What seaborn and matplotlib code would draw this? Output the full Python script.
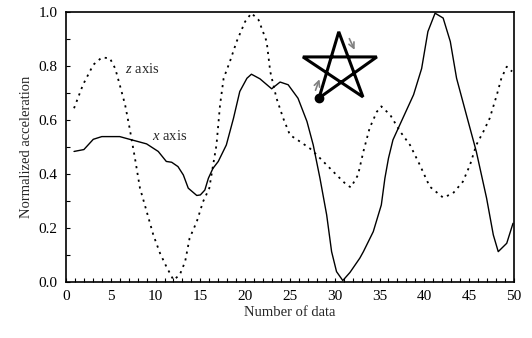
import numpy as np
import pandas as pd
import seaborn as sns
import matplotlib
matplotlib.use("Agg")
import matplotlib.pyplot as plt
from matplotlib.lines import Line2D
from matplotlib.ticker import MultipleLocator, FormatStrFormatter

# x-axis acceleration (solid line)
x_n = [0.9, 2.0, 3.05, 4.0, 5.0, 6.0, 7.1, 8.0, 9.0, 10.3, 11.2, 11.8, 12.5,
       13.1, 13.65, 14.6, 15.0, 15.5, 15.9, 16.4, 17.0, 17.9, 18.7, 19.4,
       20.2, 20.7, 21.65, 22.96, 23.9, 24.8, 25.9, 26.9, 27.6, 28.35, 29.1,
       29.65, 30.2, 30.9, 31.7, 32.8, 33.2, 34.3, 35.2, 35.6, 36.0, 36.5,
       37.6, 38.8, 39.7, 40.4, 41.2, 42.1, 42.9, 43.6, 44.7, 45.8, 46.95,
       47.7, 48.25, 49.2, 49.9]
x_val = [0.483, 0.49, 0.528, 0.538, 0.538, 0.538, 0.528, 0.52, 0.511, 0.483,
         0.446, 0.443, 0.427, 0.396, 0.347, 0.32, 0.322, 0.34, 0.384, 0.42,
         0.446, 0.507, 0.606, 0.705, 0.754, 0.769, 0.752, 0.715, 0.74, 0.73,
         0.68, 0.594, 0.507, 0.384, 0.248, 0.112, 0.038, 0.005, 0.035, 0.088,
         0.112, 0.186, 0.285, 0.384, 0.458, 0.526, 0.606, 0.693, 0.79, 0.927,
         0.995, 0.977, 0.89, 0.754, 0.618, 0.483, 0.31, 0.174, 0.112, 0.143,
         0.217]

# z-axis acceleration (dotted line)
z_n = [0.9, 1.9, 3.05, 4.0, 4.9, 5.5, 6.0, 6.6, 7.1, 7.7, 8.26, 8.8, 9.75,
       10.5, 11.2, 12.0, 12.7, 13.3, 13.8, 14.6, 15.3, 16.0, 16.3, 16.8, 17.2,
       17.6, 18.3, 19.05, 20.0, 20.7, 21.5, 22.4, 22.8, 23.5, 24.25, 25.0,
       26.1, 27.2, 28.0, 29.1, 30.2, 31.3, 31.8, 32.6, 33.2, 33.9, 34.7, 35.2,
       36.2, 37.3, 38.4, 39.5, 40.6, 42.1, 43.2, 44.3, 45.1, 45.8, 46.6, 47.3,
       48.1, 48.6, 49.2, 49.8]
z_val = [0.643, 0.73, 0.804, 0.831, 0.828, 0.79, 0.73, 0.656, 0.57, 0.458,
         0.347, 0.285, 0.174, 0.106, 0.057, 0.007, 0.026, 0.075, 0.162, 0.223,
         0.297, 0.347, 0.408, 0.507, 0.656, 0.754, 0.816, 0.89, 0.964, 0.995,
         0.97, 0.89, 0.779, 0.68, 0.606, 0.544, 0.52, 0.495, 0.47, 0.433,
         0.396, 0.36, 0.35, 0.396, 0.483, 0.57, 0.63, 0.65, 0.618, 0.557,
         0.507, 0.433, 0.353, 0.312, 0.328, 0.371, 0.433, 0.507, 0.557, 0.606,
         0.693, 0.754, 0.797, 0.779]

sns.set_style("white")
plt.rcParams['font.family'] = ['Liberation Serif', 'DejaVu Serif']
plt.rcParams['mathtext.fontset'] = 'custom'
plt.rcParams['mathtext.it'] = 'Liberation Serif:italic'
plt.rcParams['mathtext.rm'] = 'Liberation Serif'

df_x = pd.DataFrame({"n": x_n, "acc": x_val})
df_z = pd.DataFrame({"n": z_n, "acc": z_val})

fig = plt.figure(figsize=(5.32, 3.38), dpi=100)
ax = fig.add_axes([0.124, 0.166, 0.842, 0.799])

sns.lineplot(data=df_x, x="n", y="acc", ax=ax, color="black", linewidth=1.0,
             sort=False)
sns.lineplot(data=df_z, x="n", y="acc", ax=ax, color="black", linewidth=1.3,
             linestyle=(0, (1.2, 2.6)), sort=False)

ax.set_xlim(0, 50)
ax.set_ylim(0, 1.0)
ax.xaxis.set_major_locator(MultipleLocator(5))
ax.xaxis.set_minor_locator(MultipleLocator(1))
ax.yaxis.set_major_locator(MultipleLocator(0.2))
ax.yaxis.set_minor_locator(MultipleLocator(0.1))
ax.yaxis.set_major_formatter(FormatStrFormatter('%.1f'))
ax.tick_params(axis='both', which='both', direction='in', length=3, width=0.8,
               labelsize=11, colors='black', pad=6)
ax.tick_params(axis='x', which='both', bottom=True, top=False)
ax.tick_params(axis='y', which='both', left=True, right=False)
for s in ax.spines.values():
    s.set_color('black')
    s.set_linewidth(1.2)

ax.set_xlabel("Number of data", fontsize=10.5, labelpad=2)
ax.set_ylabel("Normalized acceleration", fontsize=10.5, labelpad=4)

ax.text(6.6, 0.79, "$z$ axis", fontsize=10.5, ha='left', va='center')
ax.text(9.6, 0.54, "$x$ axis", fontsize=10.5, ha='left', va='center')

# pentagram inset (axes fraction)
star = [(0.565, 0.681), (0.609, 0.926), (0.663, 0.685), (0.529, 0.833),
        (0.694, 0.833), (0.565, 0.681)]
sx, sy = zip(*star)
ax.add_line(Line2D(sx, sy, transform=ax.transAxes, color='black', linewidth=2.2,
                   solid_joinstyle='miter'))
ax.plot([0.565], [0.681], 'o', color='black', markersize=6, transform=ax.transAxes)
ax.annotate("", xy=(0.568, 0.76), xytext=(0.555, 0.70), xycoords='axes fraction',
            arrowprops=dict(arrowstyle='->', color='gray', lw=1.2))
ax.annotate("", xy=(0.647, 0.85), xytext=(0.630, 0.91), xycoords='axes fraction',
            arrowprops=dict(arrowstyle='->', color='gray', lw=1.2))

fig.savefig("out.png", dpi=100)
